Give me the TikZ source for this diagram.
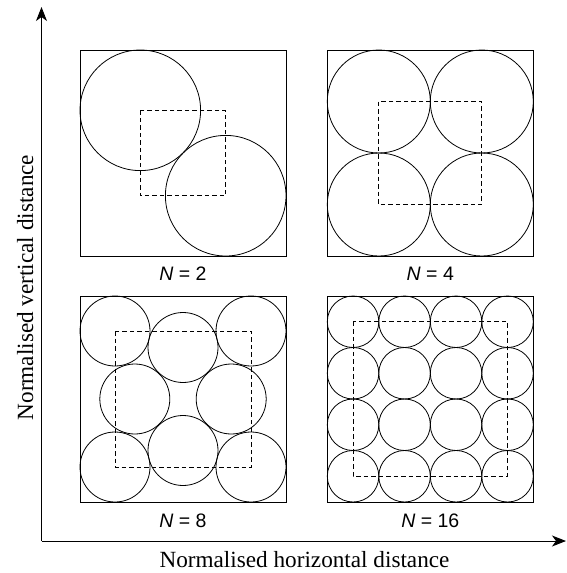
\documentclass[tikz,border=0pt]{standalone}
\usepackage{fontspec}
\setmainfont{Liberation Serif}
\newfontfamily\panelfont{Liberation Sans}
\usetikzlibrary{arrows.meta}

\begin{document}
\begin{tikzpicture}[x=1pt, y=-1pt,
  panel/.style={line width=0.9pt},
  disc/.style={line width=0.8pt},
  window/.style={line width=0.8pt, dash pattern=on 4.5pt off 3pt},
  axis/.style={line width=1pt, -{Stealth[length=14pt, width=11pt, inset=4pt]}},
  panellabel/.style={font=\panelfont\fontsize{19.5}{23}\selectfont, anchor=base},
  axislabel/.style={font=\fontsize{23.2}{27}\selectfont, anchor=base}]
  \useasboundingbox (0,0) rectangle (567,573);

  \coordinate (origin) at (41.5,541);
  \coordinate (ytip) at (41.5,7);
  \coordinate (xtip) at (566,541);
  \draw[axis] (origin) -- (ytip);
  \draw[axis] (origin) -- (xtip);
  \node[axislabel] (xlabel) at (304.5,567) {Normalised horizontal distance};
  \node[axislabel, rotate=90] (ylabel) at (33,287.5) {Normalised vertical distance};

  \begin{scope}[shift={(80,50)}]
    \draw[panel] (0,0) rectangle (206,206);
    \draw[disc] (60.3,60.3) circle (60.3pt);
    \draw[disc] (145.7,145.7) circle (60.3pt);
    \draw[window] (60.3,60.3) rectangle (145.7,145.7);
    \node[panellabel] (lab2) at (103,230) {\textit{N} = 2};
  \end{scope}

  \begin{scope}[shift={(327.3,50)}]
    \draw[panel] (0,0) rectangle (206,206);
    \foreach \cx in {51.5,154.5}
      \foreach \cy in {51.5,154.5}
        \draw[disc] (\cx,\cy) circle (51.5pt);
    \draw[window] (51.5,51.5) rectangle (154.5,154.5);
    \node[panellabel] (lab4) at (103,230) {\textit{N} = 4};
  \end{scope}

  \begin{scope}[shift={(80,296)}]
    \draw[panel] (0,0) rectangle (206,206);
    \draw[disc] (35,35) circle (35pt);
    \draw[disc] (171,35) circle (35pt);
    \draw[disc] (35,171) circle (35pt);
    \draw[disc] (171,171) circle (35pt);
    \draw[disc] (103,51.5) circle (35pt);
    \draw[disc] (103,154.5) circle (35pt);
    \draw[disc] (54.8,103) circle (35pt);
    \draw[disc] (151.2,103) circle (35pt);
    \draw[window] (35,35) rectangle (171,171);
    \node[panellabel] (lab8) at (103,231) {\textit{N} = 8};
  \end{scope}

  \begin{scope}[shift={(327.3,296)}]
    \draw[panel] (0,0) rectangle (206,206);
    \foreach \i in {0,...,3}
      \foreach \j in {0,...,3}
        \draw[disc] (25.75+51.5*\i,25.75+51.5*\j) circle (25.75pt);
    \draw[window] (25.75,25.75) rectangle (180.25,180.25);
    \node[panellabel] (lab16) at (103,231) {\textit{N} = 16};
  \end{scope}
\end{tikzpicture}
\end{document}
